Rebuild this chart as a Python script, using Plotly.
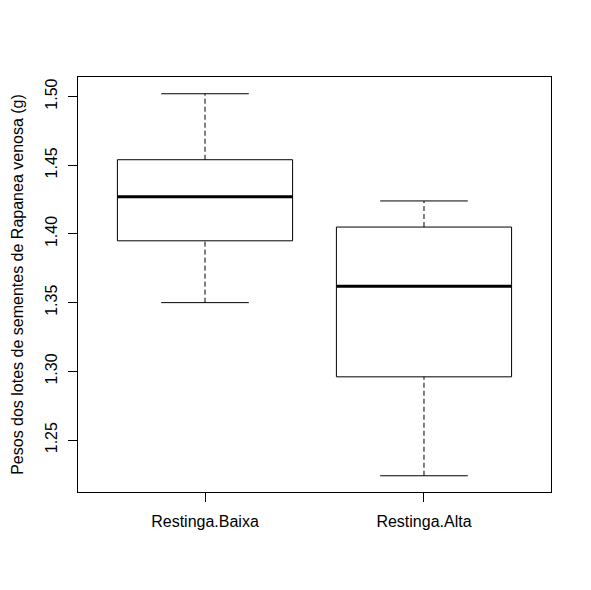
import plotly.graph_objects as go

# Box plot statistics
grupos = ["Restinga.Baixa", "Restinga.Alta"]
minimo = [1.350, 1.224]
q1 = [1.395, 1.296]
mediana = [1.427, 1.362]
q3 = [1.454, 1.405]
maximo = [1.502, 1.424]

posicoes = [1, 2]
meia_caixa = 0.4   # half box width
meia_haste = 0.2   # half staple width

fig = go.Figure()

for i, pos in enumerate(posicoes):
    # whiskers (dashed)
    for y0, y1 in [(q3[i], maximo[i]), (minimo[i], q1[i])]:
        fig.add_trace(go.Scatter(x=[pos, pos], y=[y0, y1], mode="lines",
                                 line=dict(color="black", width=1, dash="5px,3px"),
                                 hoverinfo="skip", showlegend=False))
    # staples
    for y in [minimo[i], maximo[i]]:
        fig.add_trace(go.Scatter(x=[pos - meia_haste, pos + meia_haste], y=[y, y],
                                 mode="lines", line=dict(color="black", width=1),
                                 hoverinfo="skip", showlegend=False))
    # box
    fig.add_trace(go.Scatter(
        x=[pos - meia_caixa, pos + meia_caixa, pos + meia_caixa, pos - meia_caixa, pos - meia_caixa],
        y=[q1[i], q1[i], q3[i], q3[i], q1[i]],
        mode="lines", line=dict(color="black", width=1),
        hoverinfo="skip", showlegend=False))
    # median (thick)
    fig.add_trace(go.Scatter(x=[pos - meia_caixa, pos + meia_caixa], y=[mediana[i], mediana[i]],
                             mode="lines", line=dict(color="black", width=3),
                             hoverinfo="skip", showlegend=False))

fig.update_layout(
    width=591, height=590,
    margin=dict(l=70, r=48, t=69, b=106, autoexpand=False),
    plot_bgcolor="white", paper_bgcolor="white",
    font=dict(family="Liberation Sans, Arial, sans-serif", size=16, color="black"),
    xaxis=dict(range=[0.42, 2.58], tickmode="array", tickvals=posicoes, ticktext=grupos,
               showgrid=False, zeroline=False, showline=True, mirror=True,
               linecolor="black", linewidth=1, ticks="outside", ticklen=9,
               tickcolor="black", ticklabelstandoff=6, automargin=False),
    yaxis=dict(range=[1.2122, 1.5142], tickmode="array",
               tickvals=[1.25, 1.30, 1.35, 1.40, 1.45, 1.50],
               ticktext=["1.25", "1.30", "1.35", "1.40", "1.45", "1.50"],
               tickangle=-90, showgrid=False, zeroline=False, showline=True, mirror=True,
               linecolor="black", linewidth=1, ticks="outside", ticklen=9,
               tickcolor="black", ticklabelstandoff=5, automargin=False,
               title=dict(text="Pesos dos lotes de sementes de Rapanea venosa (g)",
                          font=dict(size=16), standoff=14)),
)

fig.write_html("out.html")
